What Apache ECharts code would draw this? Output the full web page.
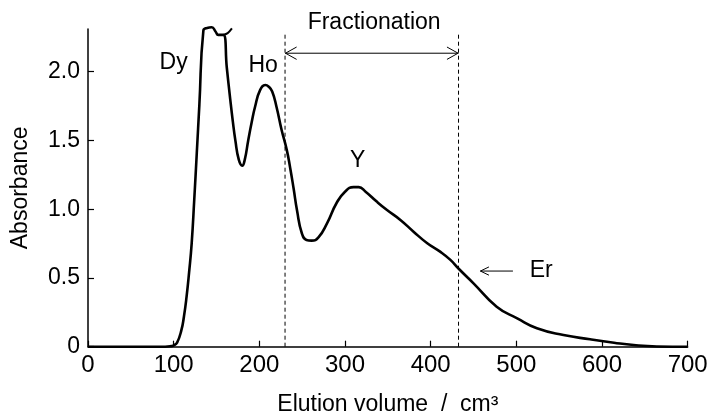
<!DOCTYPE html>
<html>
<head>
<meta charset="utf-8">
<script src="https://cdn.jsdelivr.net/npm/echarts@6/dist/echarts.min.js"></script>
<style>
html,body{margin:0;padding:0;background:#fff;}
#chart{width:710px;height:414px;}
</style>
</head>
<body>
<div id="chart"></div>
<script>
// Elution curve (volume in cm3, absorbance)
const volume = [0,60,90,96,100,104,109,112,115,118,121,124,127,130,134.7,139,144.4,149,152,158,162,166,169,172,176,180,183,187,191,195,201,207,211,215,220,226,232,236,240,244,249.6,255,261,269,279,290,300,310,316,324,337,349,365,380,396,411,423,433,450,477,501,524,555,586,614,637,664,700];
const absorbance = [0,0,0,0.003,0.01,0.03,0.12,0.22,0.36,0.54,0.75,1.067,1.41,1.76,2.30,2.318,2.323,2.29,2.267,2.267,2.03,1.80,1.64,1.50,1.36,1.316,1.36,1.50,1.63,1.745,1.867,1.903,1.89,1.855,1.745,1.576,1.431,1.30,1.15,0.99,0.825,0.776,0.771,0.795,0.897,1.043,1.127,1.16,1.16,1.127,1.055,0.994,0.92,0.836,0.752,0.691,0.631,0.565,0.461,0.291,0.206,0.134,0.085,0.054,0.029,0.012,0.002,0];
// small off-scale flick at top of the Dy peak
const flickVolume = [158,163,168];
const flickAbs = [2.267,2.28,2.315];
// fraction boundaries
const fractionStart = 230;
const fractionEnd = 432.5;
const fractionTop = 2.28;
const fractionArrowY = 2.134;
// Er arrow
const erArrowFrom = 496;
const erArrowTo = 458;
const erArrowY = 0.55;
// tick labels
const xTicks = [0,100,200,300,400,500,600,700];
const yTicks = [0,0.5,1.0,1.5,2.0];
// annotations
const labelText = ['Dy','Ho','Y','Er','Fractionation'];
const labelVolume = [100,204.4,314.8,529,334];
const labelAbs = [2.067,2.04,1.35,0.55,2.358];

const font = 'Liberation Sans, Arial, Helvetica, sans-serif';
const fs = 23;

const curve = volume.map((v,i)=>[v,absorbance[i]]);
const flick = flickVolume.map((v,i)=>[v,flickAbs[i]]);
const labels = labelText.map((t,i)=>[labelVolume[i],labelAbs[i],t]);

function chevron(tipX, tipY, dir, lenX, halfY){
  return [[tipX+dir*lenX, tipY+halfY],[tipX, tipY],[tipX+dir*lenX, tipY-halfY]];
}

const thin = {color:'#000', width:1};
const chart = echarts.init(document.getElementById('chart'), null, {renderer:'canvas'});
chart.setOption({
  animation:false,
  backgroundColor:'#fff',
  grid:{left:88, right:22.3, top:29, bottom:67.3, containLabel:false, outerBoundsMode:'none'},
  xAxis:{
    type:'value', min:0, max:700, interval:100,
    axisLine:{show:true, onZero:false, lineStyle:{color:'#000', width:1.5}},
    axisTick:{show:true, inside:true, length:6, lineStyle:{color:'#000', width:1.2}},
    axisLabel:{color:'#000', fontSize:24, fontFamily:font, margin:7,
      formatter:v=> xTicks.includes(v) ? String(v) : ''},
    splitLine:{show:false},
    name:'Elution volume  /  cm³', nameLocation:'middle', nameGap:46,
    nameTextStyle:{color:'#000', fontSize:fs, fontFamily:font}
  },
  yAxis:{
    type:'value', min:0, max:2.31, interval:0.5,
    axisLine:{show:true, lineStyle:{color:'#000', width:1.5}},
    axisTick:{show:true, inside:true, length:6, lineStyle:{color:'#000', width:1.2}},
    axisLabel:{color:'#000', fontSize:fs, fontFamily:font, margin:8, showMaxLabel:false,
      formatter:v=> yTicks.includes(v) ? (v===0 ? '0' : v.toFixed(1)) : ''},
    splitLine:{show:false},
    name:'Absorbance', nameLocation:'middle', nameGap:56, nameRotate:90,
    nameTextStyle:{color:'#000', fontSize:fs, fontFamily:font}
  },
  series:[
    {type:'line', data:curve, showSymbol:false, smooth:0.5, clip:false,
     lineStyle:{color:'#000', width:2.6}},
    {type:'line', data:flick, showSymbol:false, smooth:0.3, clip:false,
     lineStyle:{color:'#000', width:2}},
    {type:'line', data:[[fractionStart,0],[fractionStart,fractionTop]], showSymbol:false, clip:false,
     lineStyle:{color:'#000', width:1, type:[4,3]}},
    {type:'line', data:[[fractionEnd,0],[fractionEnd,fractionTop]], showSymbol:false, clip:false,
     lineStyle:{color:'#000', width:1, type:[4,3]}},
    {type:'line', data:[[fractionStart,fractionArrowY],[fractionEnd,fractionArrowY]], showSymbol:false, clip:false, lineStyle:thin},
    {type:'line', data:chevron(fractionStart+0.5,fractionArrowY,1,13,0.045), showSymbol:false, clip:false, lineStyle:thin},
    {type:'line', data:chevron(fractionEnd-0.5,fractionArrowY,-1,13,0.045), showSymbol:false, clip:false, lineStyle:thin},
    {type:'line', data:[[erArrowFrom,erArrowY],[erArrowTo,erArrowY]], showSymbol:false, clip:false, lineStyle:thin},
    {type:'line', data:chevron(erArrowTo,erArrowY,1,10,0.03), showSymbol:false, clip:false, lineStyle:thin},
    {type:'scatter', data:labels, symbolSize:0, clip:false, itemStyle:{opacity:1, color:'#000'},
     label:{show:true, position:'inside', color:'#000', opacity:1, textBorderWidth:0, fontSize:fs, fontFamily:font,
       formatter:p=>p.value[2]}}
  ]
});
</script>
</body>
</html>
